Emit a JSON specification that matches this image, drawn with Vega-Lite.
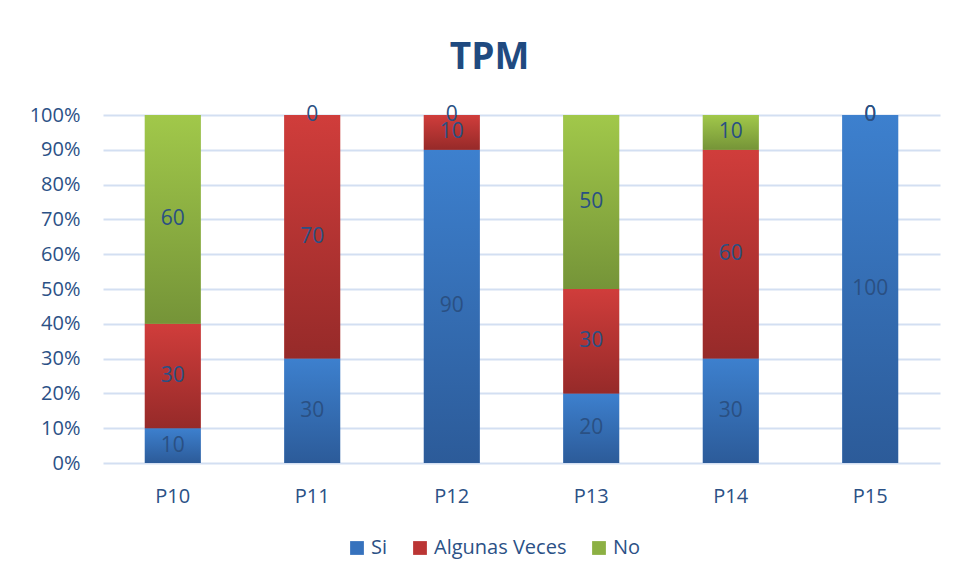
{
  "$schema": "https://vega.github.io/schema/vega-lite/v6.json",
  "width": 837,
  "height": 348,
  "autosize": {"type": "none"},
  "padding": {"left": 103, "top": 115, "right": 14, "bottom": 117},
  "background": "white",
  "title": {
    "text": "TPM",
    "font": "Open Sans",
    "fontSize": 37,
    "fontWeight": "bold",
    "color": "#1f4a80",
    "anchor": "middle",
    "frame": "bounds",
    "offset": 27,
    "dx": 5
  },
  "data": {
    "values": [
      {"q": "P10", "r": "Si", "v": 10},
      {"q": "P10", "r": "Algunas Veces", "v": 30},
      {"q": "P10", "r": "No", "v": 60},
      {"q": "P11", "r": "Si", "v": 30},
      {"q": "P11", "r": "Algunas Veces", "v": 70},
      {"q": "P11", "r": "No", "v": 0},
      {"q": "P12", "r": "Si", "v": 90},
      {"q": "P12", "r": "Algunas Veces", "v": 10},
      {"q": "P12", "r": "No", "v": 0},
      {"q": "P13", "r": "Si", "v": 20},
      {"q": "P13", "r": "Algunas Veces", "v": 30},
      {"q": "P13", "r": "No", "v": 50},
      {"q": "P14", "r": "Si", "v": 30},
      {"q": "P14", "r": "Algunas Veces", "v": 60},
      {"q": "P14", "r": "No", "v": 10},
      {"q": "P15", "r": "Si", "v": 100},
      {"q": "P15", "r": "Algunas Veces", "v": 0},
      {"q": "P15", "r": "No", "v": 0}
    ]
  },
  "transform": [
    {"calculate": "indexof(['Si','Algunas Veces','No'], datum.r)", "as": "ord"},
    {"stack": "v", "groupby": ["q"], "sort": [{"field": "ord", "order": "ascending"}], "offset": "normalize", "as": ["y0", "y1"]},
    {"calculate": "(datum.y0 + datum.y1) / 2", "as": "ym"}
  ],
  "encoding": {
    "x": {
      "field": "q",
      "type": "nominal",
      "title": null,
      "scale": {"paddingInner": 0.6, "paddingOuter": 0.3},
      "axis": {
        "labelAngle": 0,
        "domain": false,
        "ticks": false,
        "tickSize": 0,
        "labelPadding": 23,
        "labelFont": "Open Sans",
        "labelFontSize": 20,
        "labelColor": "#2b5186",
        "grid": false
      }
    },
    "y": {
      "field": "y0",
      "type": "quantitative",
      "title": null,
      "scale": {"domain": [0, 1], "nice": false},
      "axis": {
        "values": [0, 0.1, 0.2, 0.3, 0.4, 0.5, 0.6, 0.7, 0.8, 0.9, 1],
        "format": ".0%",
        "domain": false,
        "ticks": false,
        "tickSize": 0,
        "labelPadding": 23,
        "labelFont": "Open Sans",
        "labelFontSize": 20,
        "labelColor": "#2b5186",
        "gridColor": "#d3dff2",
        "gridWidth": 1.8
      }
    },
    "y2": {"field": "y1"}
  },
  "layer": [
    {
      "mark": {"type": "bar"},
      "encoding": {
        "fill": {
          "field": "r",
          "type": "nominal",
          "sort": ["Si", "Algunas Veces", "No"],
          "scale": {
            "domain": ["Si", "Algunas Veces", "No"],
            "range": ["#3672bd", "#bb3534", "#8cb043"]
          },
          "legend": {
            "title": null,
            "orient": "none",
            "legendX": 244,
            "legendY": 423,
            "direction": "horizontal",
            "symbolType": "square",
            "symbolSize": 190,
            "symbolStrokeWidth": 0,
            "symbolOpacity": 1,
            "labelFont": "Open Sans",
            "labelFontSize": 20,
            "labelColor": "#2b5186",
            "labelOffset": 4,
            "columnPadding": 22,
            "padding": 0
          }
        }
      }
    },
    {
      "transform": [{"filter": "datum.r === 'Si'"}],
      "mark": {"type": "bar", "fill": {"gradient": "linear", "x1": 0, "y1": 0, "x2": 0, "y2": 1, "stops": [{"offset": 0, "color": "#3d80ce"}, {"offset": 1, "color": "#2c5b99"}]}}
    },
    {
      "transform": [{"filter": "datum.r === 'Algunas Veces'"}],
      "mark": {"type": "bar", "fill": {"gradient": "linear", "x1": 0, "y1": 0, "x2": 0, "y2": 1, "stops": [{"offset": 0, "color": "#d03d3b"}, {"offset": 1, "color": "#962a29"}]}}
    },
    {
      "transform": [{"filter": "datum.r === 'No'"}],
      "mark": {"type": "bar", "fill": {"gradient": "linear", "x1": 0, "y1": 0, "x2": 0, "y2": 1, "stops": [{"offset": 0, "color": "#a1c84a"}, {"offset": 1, "color": "#759438"}]}}
    },
    {
      "mark": {"type": "text", "font": "Open Sans", "fontSize": 21, "color": "#2a5083", "baseline": "middle"},
      "encoding": {
        "y": {"field": "ym", "type": "quantitative"},
        "y2": null,
        "text": {"field": "v", "type": "quantitative"}
      }
    }
  ],
  "config": {
    "view": {"stroke": null}
  }
}
